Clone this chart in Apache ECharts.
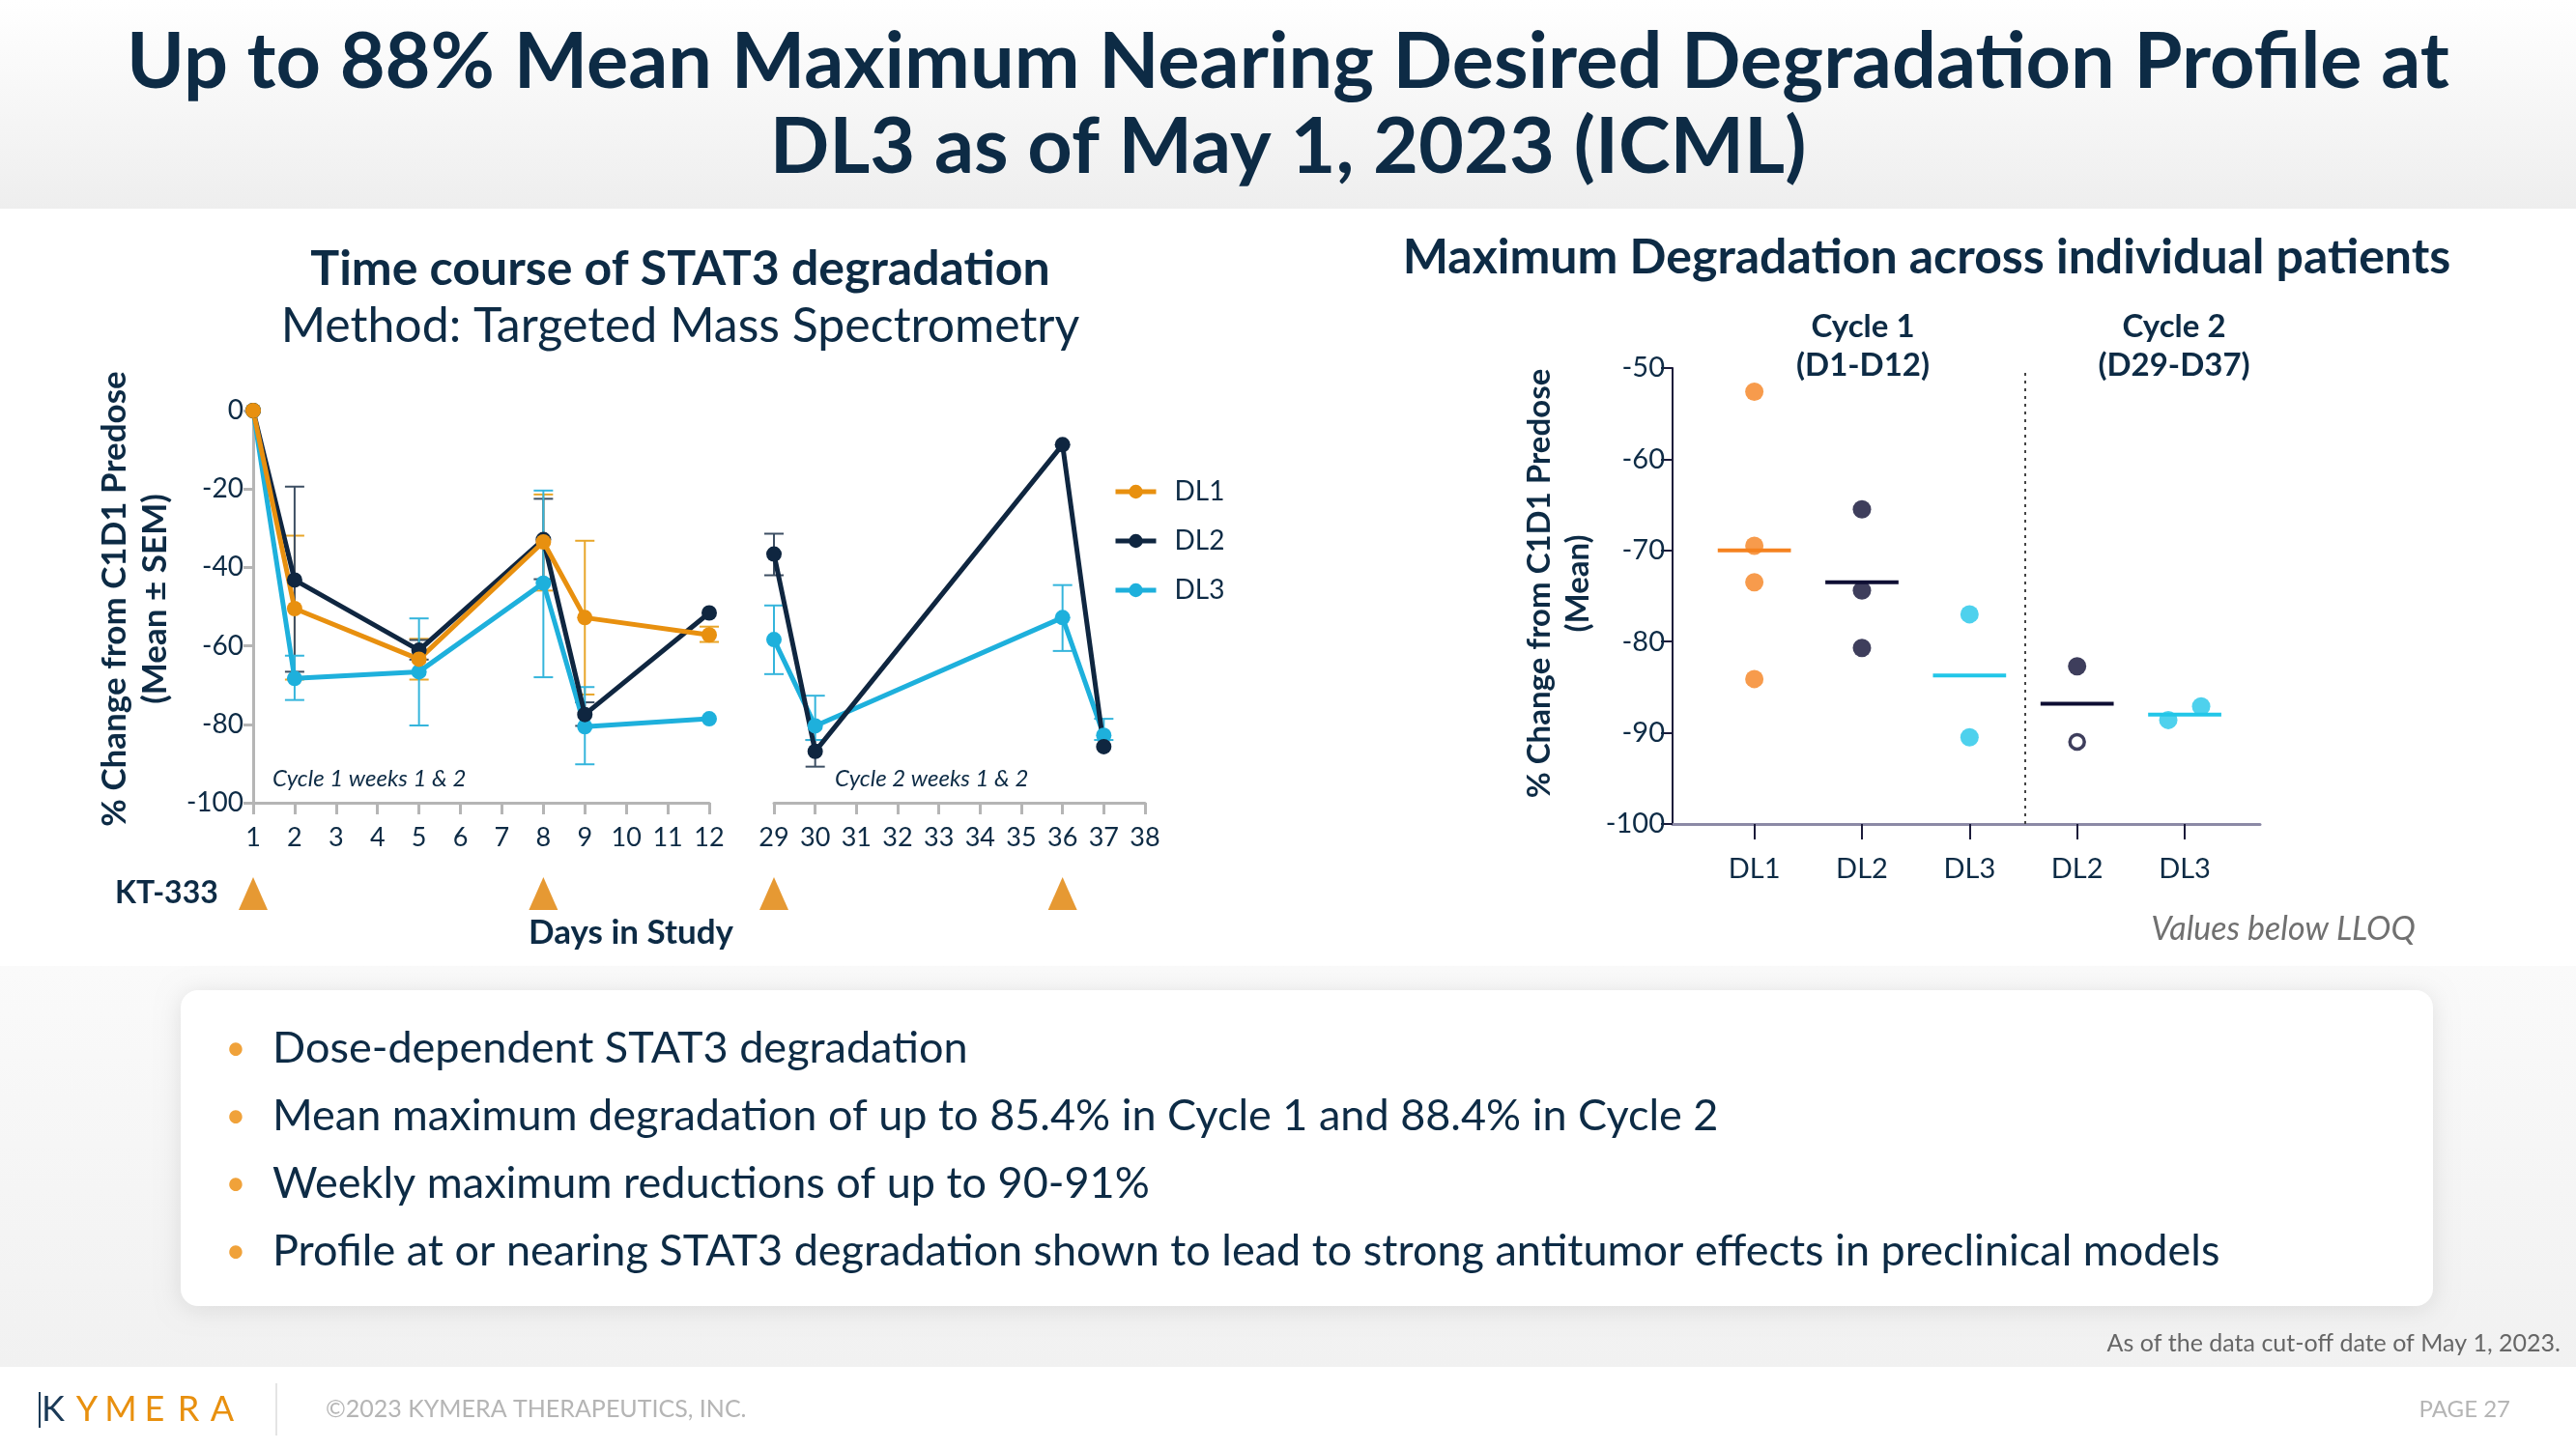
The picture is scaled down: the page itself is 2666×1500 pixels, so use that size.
<!DOCTYPE html>
<html>
<head>
<meta charset="utf-8">
<script src="https://cdn.jsdelivr.net/npm/echarts@6/dist/echarts.min.js"></script>
<style>
html,body{margin:0;padding:0;background:#fff;}
#chart{width:2666px;height:1500px;}
</style>
</head>
<body>
<div id="chart"></div>
<script>
// ---------- DATA ----------
const cycle1Days = [1, 2, 5, 8, 9, 12];
const cycle2Days = [29, 30, 36, 37];
const doseDays1 = [1, 8];
const doseDays2 = [29, 36];
const xTicks1 = [1,2,3,4,5,6,7,8,9,10,11,12];
const xTicks2 = [29,30,31,32,33,34,35,36,37,38];

const dl1C1 = [0, -50.5, -63.4, -33.5, -52.8, -57.2];
const dl2C1 = [0, -43.2, -61.1, -32.9, -77.5, -51.6];
const dl3C1 = [0, -68.3, -66.6, -44.0, -80.6, -78.6];
const dl1C1Hi = [null, -31.9, -58.2, -21.4, -33.2, -55.1];
const dl1C1Lo = [null, -68.6, -68.6, -45.9, -72.4, -59.0];
const dl2C1Hi = [null, -19.4, -58.5, -22.5, -74.4, null];
const dl2C1Lo = [null, -66.6, -63.5, -43.0, -80.4, null];
const dl3C1Hi = [null, -62.5, -53.0, -20.4, -70.5, null];
const dl3C1Lo = [null, -73.8, -80.3, -68.0, -90.2, null];

const dl2C2 = [-36.6, -86.9, -8.7, -85.7];
const dl3C2 = [-58.4, -80.4, -52.8, -82.8];
const dl2C2Hi = [-31.4, -84.0, null, null];
const dl2C2Lo = [-42.0, -90.8, null, null];
const dl3C2Hi = [-49.7, -72.7, -44.5, -78.6];
const dl3C2Lo = [-67.2, -84.0, -61.3, -84.0];

const maxCategories = ['DL1', 'DL2', 'DL3', 'DL2', 'DL3'];
const maxDL1C1 = [-52.6, -69.5, -73.5, -84.1];
const maxDL2C1 = [-65.5, -74.4, -80.7];
const maxDL3C1 = [-77.0, -90.5];
const maxDL2C2 = [-82.7];
const maxDL2C2BelowLLOQ = [-91.0];
const maxDL3C2 = [-88.6, -87.1];
const maxMeans = [-70.0, -73.5, -83.7, -86.8, -88.0];

// ---------- STYLE ----------
const NAVY = '#0d2b45';
const C_DL1 = '#e8900f', C_DL2 = '#0f2640', C_DL3 = '#1eb0dc';
const R_DL1 = '#f5821f', R_DL2 = '#0e0e33', R_DL3 = '#22c6e8';
const FONT = 'Lato, "Noto Sans", sans-serif';

function errData(days, hi, lo) {
  const out = [];
  days.forEach((d, i) => { if (hi[i] != null && lo[i] != null) out.push([d, hi[i], lo[i]]); });
  return out;
}
function errSeries(days, hi, lo, color, xi, yi) {
  return {
    type: 'custom', xAxisIndex: xi, yAxisIndex: yi, silent: true, z: 1,
    data: errData(days, hi, lo),
    renderItem: function (params, api) {
      const x = api.value(0);
      const a = api.coord([x, api.value(1)]);
      const b = api.coord([x, api.value(2)]);
      const w = 10;
      const st = { stroke: color, lineWidth: 2 };
      return { type: 'group', children: [
        { type: 'line', shape: { x1: a[0], y1: a[1], x2: b[0], y2: b[1] }, style: st },
        { type: 'line', shape: { x1: a[0] - w, y1: a[1], x2: a[0] + w, y2: a[1] }, style: st },
        { type: 'line', shape: { x1: b[0] - w, y1: b[1], x2: b[0] + w, y2: b[1] }, style: st }
      ]};
    }
  };
}
function lineSeries(name, days, vals, color, xi, yi) {
  return {
    name: name, type: 'line', xAxisIndex: xi, yAxisIndex: yi, z: 3,
    data: days.map((d, i) => [d, vals[i]]),
    symbol: 'circle', symbolSize: 16,
    lineStyle: { color: color, width: 5 },
    itemStyle: { color: color },
    emphasis: { disabled: true }
  };
}
function dotSeries(catIndex, vals, color, extra) {
  return Object.assign({
    type: 'scatter', xAxisIndex: 2, yAxisIndex: 2, z: 3,
    data: vals.map(v => [catIndex, v]),
    symbol: 'circle', symbolSize: 19,
    itemStyle: { color: color }
  }, extra || {});
}

const chart = echarts.init(document.getElementById('chart'));

const axisGray = '#b5b5b5';
function timeX(gi, min, max, ticks) {
  return {
    type: 'value', gridIndex: gi, min: min, max: max, interval: 1,
    axisLine: { onZero: false, lineStyle: { color: axisGray, width: 3 } },
    axisTick: { show: true, length: 12, lineStyle: { color: axisGray, width: 3 } },
    axisLabel: { color: NAVY, fontSize: 27, fontFamily: FONT, margin: 23,
      customValues: ticks },
    splitLine: { show: false }
  };
}

const option = {
  backgroundColor: '#ffffff',
  animation: false,
  textStyle: { fontFamily: FONT },
  graphic: [
    // header band
    { type: 'rect', z: -10, shape: { x: 0, y: 0, width: 2666, height: 216 },
      style: { fill: new echarts.graphic.LinearGradient(0, 0, 0, 1, [
        { offset: 0, color: '#ffffff' }, { offset: 1, color: '#eeeeee' }]) } },
    // lower gray band
    { type: 'rect', z: -10, shape: { x: 0, y: 1000, width: 2666, height: 415 },
      style: { fill: new echarts.graphic.LinearGradient(0, 0, 0, 1, [
        { offset: 0, color: '#fafafa' }, { offset: 1, color: '#f1f1f1' }]) } },
    // bullet box
    { type: 'rect', z: -9, shape: { x: 187, y: 1025, width: 2331, height: 327, r: 18 },
      style: { fill: '#ffffff', shadowBlur: 24, shadowColor: 'rgba(0,0,0,0.10)', shadowOffsetY: 3 } },
    // title
    { type: 'text', z: 10, x: 1333, y: 65, style: { text: 'Up to 88% Mean Maximum Nearing Desired Degradation Profile at',
      fontFamily: FONT, fontWeight: 'bold', fontSize: 81, fill: NAVY, align: 'center', verticalAlign: 'middle' } },
    { type: 'text', z: 10, x: 1333, y: 153, style: { text: 'DL3 as of May 1, 2023 (ICML)',
      fontFamily: FONT, fontWeight: 'bold', fontSize: 81, fill: NAVY, align: 'center', verticalAlign: 'middle' } },
    // left chart titles
    { type: 'text', x: 704, y: 279, style: { text: 'Time course of STAT3 degradation',
      fontFamily: FONT, fontWeight: 'bold', fontSize: 50, fill: NAVY, align: 'center', verticalAlign: 'middle' } },
    { type: 'text', x: 704, y: 338, style: { text: 'Method: Targeted Mass Spectrometry',
      fontFamily: FONT, fontSize: 50, fill: NAVY, align: 'center', verticalAlign: 'middle' } },
    { type: 'text', x: 119, y: 620, rotation: Math.PI / 2, style: { text: '% Change from C1D1 Predose',
      fontFamily: FONT, fontWeight: 'bold', fontSize: 35, fill: NAVY, align: 'center', verticalAlign: 'middle' } },
    { type: 'text', x: 161, y: 620, rotation: Math.PI / 2, style: { text: '(Mean ± SEM)',
      fontFamily: FONT, fontWeight: 'bold', fontSize: 35, fill: NAVY, align: 'center', verticalAlign: 'middle' } },
    { type: 'text', x: 282, y: 806, style: { text: 'Cycle 1 weeks 1 & 2',
      fontFamily: FONT, fontStyle: 'italic', fontSize: 24, fill: NAVY, align: 'left', verticalAlign: 'middle' } },
    { type: 'text', x: 864, y: 806, style: { text: 'Cycle 2 weeks 1 & 2',
      fontFamily: FONT, fontStyle: 'italic', fontSize: 24, fill: NAVY, align: 'left', verticalAlign: 'middle' } },
    { type: 'text', x: 119, y: 925, style: { text: 'KT-333',
      fontFamily: FONT, fontWeight: 'bold', fontSize: 32, fill: NAVY, align: 'left', verticalAlign: 'middle' } },
    { type: 'text', x: 653, y: 966, style: { text: 'Days in Study',
      fontFamily: FONT, fontWeight: 'bold', fontSize: 35, fill: NAVY, align: 'center', verticalAlign: 'middle' } },
    // right chart titles
    { type: 'text', x: 1994, y: 267, style: { text: 'Maximum Degradation across individual patients',
      fontFamily: FONT, fontWeight: 'bold', fontSize: 50, fill: NAVY, align: 'center', verticalAlign: 'middle' } },
    { type: 'text', x: 1928, y: 358, style: { text: 'Cycle 1\n(D1-D12)', lineHeight: 40,
      fontFamily: FONT, fontWeight: 'bold', fontSize: 33, fill: NAVY, align: 'center', verticalAlign: 'middle' } },
    { type: 'text', x: 2250, y: 358, style: { text: 'Cycle 2\n(D29-D37)', lineHeight: 40,
      fontFamily: FONT, fontWeight: 'bold', fontSize: 33, fill: NAVY, align: 'center', verticalAlign: 'middle' } },
    { type: 'text', x: 1593, y: 604, rotation: Math.PI / 2, style: { text: '% Change from C1D1 Predose',
      fontFamily: FONT, fontWeight: 'bold', fontSize: 33, fill: NAVY, align: 'center', verticalAlign: 'middle' } },
    { type: 'text', x: 1633, y: 604, rotation: Math.PI / 2, style: { text: '(Mean)',
      fontFamily: FONT, fontWeight: 'bold', fontSize: 33, fill: NAVY, align: 'center', verticalAlign: 'middle' } },
    { type: 'text', x: 2363, y: 962, style: { text: 'Values below LLOQ',
      fontFamily: FONT, fontStyle: 'italic', fontSize: 34, fill: '#707070', align: 'center', verticalAlign: 'middle' } },
    // bullets
    ...[
      'Dose-dependent STAT3 degradation',
      'Mean maximum degradation of up to 85.4% in Cycle 1 and 88.4% in Cycle 2',
      'Weekly maximum reductions of up to 90-91%',
      'Profile at or nearing STAT3 degradation shown to lead to strong antitumor effects in preclinical models'
    ].flatMap((t, i) => [
      { type: 'text', x: 244, y: 1085 + i * 70, style: { text: '•', fontFamily: FONT, fontSize: 36, fill: '#f0a23a', align: 'center', verticalAlign: 'middle' } },
      { type: 'text', x: 282, y: 1085 + i * 70, style: { text: t, fontFamily: FONT, fontSize: 45, fill: NAVY, align: 'left', verticalAlign: 'middle' } }
    ]),
    { type: 'text', x: 2650, y: 1391, style: { text: 'As of the data cut-off date of May 1, 2023.',
      fontFamily: FONT, fontSize: 25, fill: '#666666', align: 'right', verticalAlign: 'middle' } },
    // footer
    { type: 'rect', z: -10, shape: { x: 0, y: 1415, width: 2666, height: 85 }, style: { fill: '#ffffff' } },
    { type: 'line', shape: { x1: 41, y1: 1441, x2: 41, y2: 1478 }, style: { stroke: '#1b3a57', lineWidth: 2 } },
    ...['K', 'Y', 'M', 'E', 'R', 'A'].map((ch, i) => ({
      type: 'text', x: 55 + i * 35, y: 1459, style: { text: ch, fontFamily: FONT, fontSize: 36,
        fill: i === 0 ? '#1b3a57' : '#e8900f', align: 'center', verticalAlign: 'middle' } })),
    { type: 'line', shape: { x1: 286, y1: 1432, x2: 286, y2: 1486 }, style: { stroke: '#e4e4e4', lineWidth: 2 } },
    { type: 'text', x: 337, y: 1459, style: { text: '©2023 KYMERA THERAPEUTICS, INC.',
      fontFamily: FONT, fontSize: 25, fill: '#b5b5b5', align: 'left', verticalAlign: 'middle' } },
    { type: 'text', x: 2598, y: 1459, style: { text: 'PAGE 27',
      fontFamily: FONT, fontSize: 24, fill: '#b5b5b5', align: 'right', verticalAlign: 'middle' } }
  ],
  legend: {
    data: ['DL1', 'DL2', 'DL3'],
    orient: 'vertical', left: 1147, top: 490, itemGap: 23,
    itemWidth: 42, itemHeight: 18,
    lineStyle: { width: 5 },
    textStyle: { color: NAVY, fontSize: 28, fontFamily: FONT, padding: [0, 0, 0, 14] },
    selectedMode: false
  },
  grid: [
    { left: 262, top: 425, width: 472, height: 406 },
    { left: 801, top: 425, width: 384, height: 406 },
    { left: 1731, top: 381, width: 608, height: 472 },
    { left: 262, top: 906, width: 472, height: 38 },
    { left: 801, top: 906, width: 384, height: 38 }
  ],
  xAxis: [
    timeX(0, 1, 12, xTicks1),
    timeX(1, 29, 38, xTicks2),
    { type: 'value', gridIndex: 2, min: 0.24, max: 5.7,
      axisLine: { onZero: false, lineStyle: { color: '#8c8aa6', width: 3 } },
      axisTick: { show: true, length: 16, customValues: [1, 2, 3, 4, 5], lineStyle: { color: '#1b1b3a', width: 2 } },
      axisLabel: { color: NAVY, fontSize: 29, fontFamily: FONT, margin: 32,
        customValues: [1, 2, 3, 4, 5], formatter: v => maxCategories[Math.round(v) - 1] || '' },
      splitLine: { show: false } },
    { type: 'value', gridIndex: 3, min: 1, max: 12, show: false },
    { type: 'value', gridIndex: 4, min: 29, max: 38, show: false }
  ],
  yAxis: [
    { type: 'value', gridIndex: 0, min: -100, max: 0, interval: 20,
      axisLine: { show: true, lineStyle: { color: axisGray, width: 3 } },
      axisTick: { show: true, length: 10, lineStyle: { color: axisGray, width: 3 } },
      axisLabel: { color: NAVY, fontSize: 28, fontFamily: FONT, margin: 10 },
      splitLine: { show: false } },
    { type: 'value', gridIndex: 1, min: -100, max: 0, interval: 20, show: false },
    { type: 'value', gridIndex: 2, min: -100, max: -50, interval: 10,
      axisLine: { show: true, lineStyle: { color: '#1b1b3a', width: 2 } },
      axisTick: { show: true, length: 12, lineStyle: { color: '#1b1b3a', width: 2 } },
      axisLabel: { color: NAVY, fontSize: 29, fontFamily: FONT, margin: 8 },
      splitLine: { show: false } },
    { type: 'value', gridIndex: 3, min: 0, max: 1, show: false },
    { type: 'value', gridIndex: 4, min: 0, max: 1, show: false }
  ],
  series: [
    errSeries(cycle1Days, dl1C1Hi, dl1C1Lo, '#e8a62a', 0, 0),
    errSeries(cycle1Days, dl2C1Hi, dl2C1Lo, '#3d4f63', 0, 0),
    errSeries(cycle1Days, dl3C1Hi, dl3C1Lo, '#35b5dc', 0, 0),
    errSeries(cycle2Days, dl2C2Hi, dl2C2Lo, '#3d4f63', 1, 1),
    errSeries(cycle2Days, dl3C2Hi, dl3C2Lo, '#35b5dc', 1, 1),
    lineSeries('DL3', cycle1Days, dl3C1, C_DL3, 0, 0),
    lineSeries('DL2', cycle1Days, dl2C1, C_DL2, 0, 0),
    lineSeries('DL1', cycle1Days, dl1C1, C_DL1, 0, 0),
    lineSeries('DL3', cycle2Days, dl3C2, C_DL3, 1, 1),
    lineSeries('DL2', cycle2Days, dl2C2, C_DL2, 1, 1),
    // dosing triangles
    { type: 'scatter', xAxisIndex: 3, yAxisIndex: 3, symbol: 'triangle', symbolSize: [30, 34],
      itemStyle: { color: '#e07f00' }, data: doseDays1.map(d => [d, 0.5]) },
    { type: 'scatter', xAxisIndex: 4, yAxisIndex: 4, symbol: 'triangle', symbolSize: [30, 34],
      itemStyle: { color: '#e07f00' }, data: doseDays2.map(d => [d, 0.5]) },
    // right chart
    dotSeries(1, maxDL1C1, R_DL1, {
      markLine: { silent: true, symbol: 'none', label: { show: false },
        lineStyle: { type: [3, 5], color: '#444', width: 2 },
        data: [{ xAxis: 3.52 }] } }),
    dotSeries(2, maxDL2C1, R_DL2),
    dotSeries(3, maxDL3C1, R_DL3),
    dotSeries(4, maxDL2C2, R_DL2),
    dotSeries(4, maxDL2C2BelowLLOQ, R_DL2, { symbolSize: 15,
      itemStyle: { color: '#ffffff', borderColor: R_DL2, borderWidth: 3.5 } }),
    { type: 'scatter', xAxisIndex: 2, yAxisIndex: 2, z: 3, symbol: 'circle', symbolSize: 19,
      itemStyle: { color: R_DL3 },
      data: maxDL3C2.map((v, i) => ({ value: [5, v], symbolOffset: [i === 0 ? -17 : 17, 0] })) },
    { type: 'custom', xAxisIndex: 2, yAxisIndex: 2, z: 4, silent: true,
      data: maxMeans.map((m, i) => [i + 1, m]),
      renderItem: function (params, api) {
        const cols = [R_DL1, R_DL2, R_DL3, R_DL2, R_DL3];
        const x = api.value(0), y = api.value(1);
        const a = api.coord([x - 0.34, y]), b = api.coord([x + 0.34, y]);
        return { type: 'line', shape: { x1: a[0], y1: a[1], x2: b[0], y2: b[1] },
          style: { stroke: cols[params.dataIndex], lineWidth: 4 } };
      } }
  ]
};
chart.setOption(option);
</script>
</body>
</html>
